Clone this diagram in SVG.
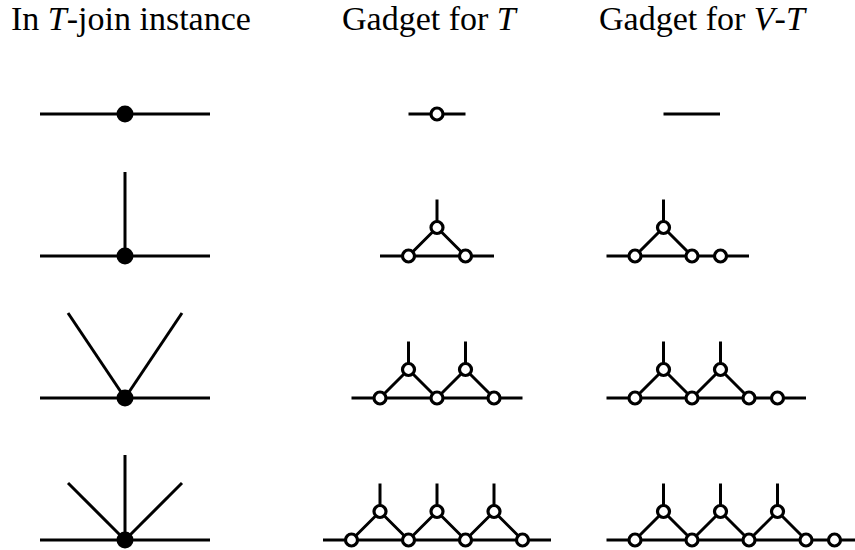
<svg xmlns="http://www.w3.org/2000/svg" width="855" height="550" viewBox="0 0 855 550">
<style>
.t{font-family:"Liberation Serif","Times New Roman",serif;font-size:34px;fill:#000}
.e{stroke:#000;stroke-width:3;fill:none}
.d{fill:#000}
.o{fill:#fff;stroke:#000;stroke-width:3.2}
</style>
<rect width="855" height="550" fill="#fff"/>
<g id="titles">
<text class="t" x="11" y="30">In <tspan font-style="italic">T</tspan>-join instance</text>
<text class="t" x="342" y="30">Gadget for <tspan font-style="italic">T</tspan></text>
<text class="t" x="599" y="30">Gadget for <tspan font-style="italic">V</tspan>-<tspan font-style="italic">T</tspan></text>
</g>
<g id="connectors" class="e">
<!-- column 1 -->
<line x1="40" y1="114" x2="210" y2="114"/>
<line x1="40" y1="256" x2="210" y2="256"/>
<line x1="125" y1="172" x2="125" y2="256"/>
<line x1="40" y1="398" x2="210" y2="398"/>
<line x1="125" y1="398" x2="68" y2="313"/>
<line x1="125" y1="398" x2="182" y2="313"/>
<line x1="40" y1="540" x2="210" y2="540"/>
<line x1="125" y1="455" x2="125" y2="540"/>
<line x1="125" y1="540" x2="68" y2="483"/>
<line x1="125" y1="540" x2="182" y2="483"/>
<!-- gadget T -->
<line x1="408.5" y1="114" x2="465.5" y2="114"/>
<line x1="380" y1="256" x2="494" y2="256"/>
<polyline points="408.5,256 437,227.5 465.5,256"/>
<line x1="437" y1="199.5" x2="437" y2="227.5"/>
<line x1="351.5" y1="398" x2="522.5" y2="398"/>
<polyline points="380,398 408.5,369.5 437,398 465.5,369.5 494,398"/>
<line x1="408.5" y1="341.5" x2="408.5" y2="369.5"/>
<line x1="465.5" y1="341.5" x2="465.5" y2="369.5"/>
<line x1="323" y1="540" x2="551" y2="540"/>
<polyline points="351.5,540 380,511.5 408.5,540 437,511.5 465.5,540 494,511.5 522.5,540"/>
<line x1="380" y1="483.5" x2="380" y2="511.5"/>
<line x1="437" y1="483.5" x2="437" y2="511.5"/>
<line x1="494" y1="483.5" x2="494" y2="511.5"/>
<!-- gadget V-T -->
<line x1="663.5" y1="114" x2="720" y2="114"/>
<line x1="606.5" y1="256" x2="749" y2="256"/>
<polyline points="635,256 663.5,227.5 692,256"/>
<line x1="663.5" y1="199.5" x2="663.5" y2="227.5"/>
<line x1="606.5" y1="398" x2="806" y2="398"/>
<polyline points="635,398 663.5,369.5 692,398 720.5,369.5 749,398"/>
<line x1="663.5" y1="341.5" x2="663.5" y2="369.5"/>
<line x1="720.5" y1="341.5" x2="720.5" y2="369.5"/>
<line x1="606.5" y1="540" x2="863" y2="540"/>
<polyline points="635,540 663.5,511.5 692,540 720.5,511.5 749,540 777.5,511.5 806,540"/>
<line x1="663.5" y1="483.5" x2="663.5" y2="511.5"/>
<line x1="720.5" y1="483.5" x2="720.5" y2="511.5"/>
<line x1="777.5" y1="483.5" x2="777.5" y2="511.5"/>
</g>
<g id="inst-1"><circle class="d" cx="125" cy="114" r="8.5"/></g>
<g id="inst-2"><circle class="d" cx="125" cy="256" r="8.5"/></g>
<g id="inst-3"><circle class="d" cx="125" cy="398" r="8.5"/></g>
<g id="inst-4"><circle class="d" cx="125" cy="540" r="8.5"/></g>
<g id="t1-a"><circle class="o" cx="437" cy="114" r="6"/></g>
<g id="t2-top1"><circle class="o" cx="437" cy="227.5" r="6"/></g>
<g id="t2-b1"><circle class="o" cx="408.5" cy="256" r="6"/></g>
<g id="t2-b2"><circle class="o" cx="465.5" cy="256" r="6"/></g>
<g id="t3-top1"><circle class="o" cx="408.5" cy="369.5" r="6"/></g>
<g id="t3-top2"><circle class="o" cx="465.5" cy="369.5" r="6"/></g>
<g id="t3-b1"><circle class="o" cx="380" cy="398" r="6"/></g>
<g id="t3-b2"><circle class="o" cx="437" cy="398" r="6"/></g>
<g id="t3-b3"><circle class="o" cx="494" cy="398" r="6"/></g>
<g id="t4-top1"><circle class="o" cx="380" cy="511.5" r="6"/></g>
<g id="t4-top2"><circle class="o" cx="437" cy="511.5" r="6"/></g>
<g id="t4-top3"><circle class="o" cx="494" cy="511.5" r="6"/></g>
<g id="t4-b1"><circle class="o" cx="351.5" cy="540" r="6"/></g>
<g id="t4-b2"><circle class="o" cx="408.5" cy="540" r="6"/></g>
<g id="t4-b3"><circle class="o" cx="465.5" cy="540" r="6"/></g>
<g id="t4-b4"><circle class="o" cx="522.5" cy="540" r="6"/></g>
<g id="v2-top1"><circle class="o" cx="663.5" cy="227.5" r="6"/></g>
<g id="v2-b1"><circle class="o" cx="635" cy="256" r="6"/></g>
<g id="v2-b2"><circle class="o" cx="692" cy="256" r="6"/></g>
<g id="v2-x"><circle class="o" cx="720.5" cy="256" r="6"/></g>
<g id="v3-top1"><circle class="o" cx="663.5" cy="369.5" r="6"/></g>
<g id="v3-top2"><circle class="o" cx="720.5" cy="369.5" r="6"/></g>
<g id="v3-b1"><circle class="o" cx="635" cy="398" r="6"/></g>
<g id="v3-b2"><circle class="o" cx="692" cy="398" r="6"/></g>
<g id="v3-b3"><circle class="o" cx="749" cy="398" r="6"/></g>
<g id="v3-x"><circle class="o" cx="777.5" cy="398" r="6"/></g>
<g id="v4-top1"><circle class="o" cx="663.5" cy="511.5" r="6"/></g>
<g id="v4-top2"><circle class="o" cx="720.5" cy="511.5" r="6"/></g>
<g id="v4-top3"><circle class="o" cx="777.5" cy="511.5" r="6"/></g>
<g id="v4-b1"><circle class="o" cx="635" cy="540" r="6"/></g>
<g id="v4-b2"><circle class="o" cx="692" cy="540" r="6"/></g>
<g id="v4-b3"><circle class="o" cx="749" cy="540" r="6"/></g>
<g id="v4-b4"><circle class="o" cx="806" cy="540" r="6"/></g>
<g id="v4-x"><circle class="o" cx="834.5" cy="540" r="6"/></g>
</svg>
